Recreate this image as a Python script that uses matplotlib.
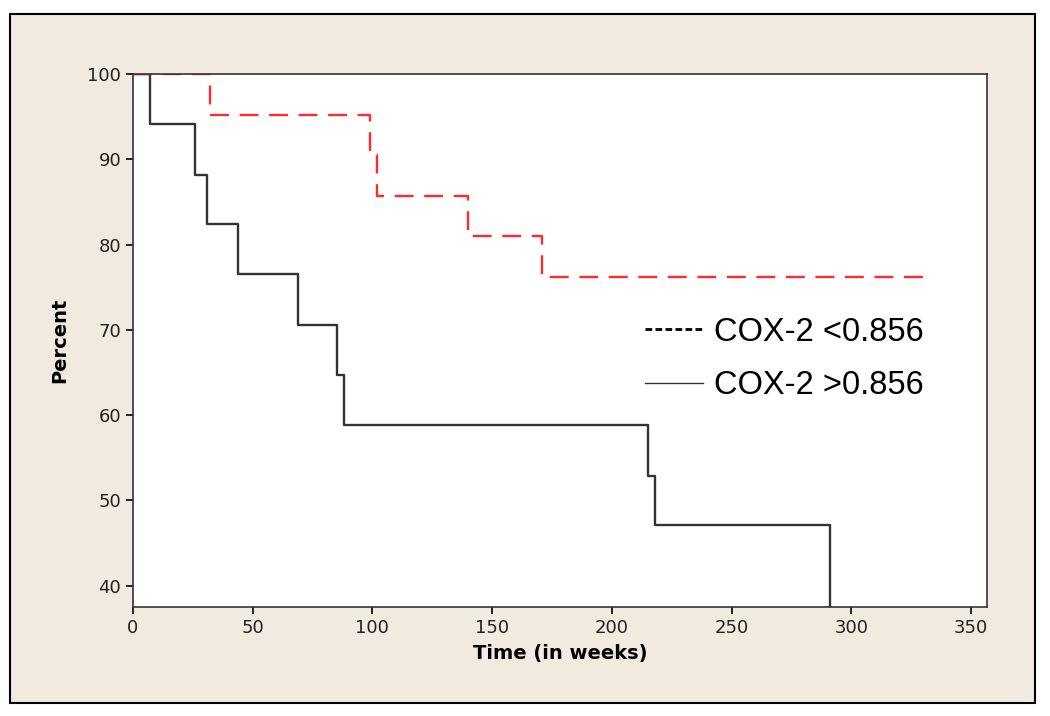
import matplotlib
matplotlib.use("Agg")
import matplotlib.pyplot as plt
from matplotlib.lines import Line2D
from matplotlib.patches import Rectangle

# Kaplan-Meier style survival steps
low_weeks = [0, 32, 99, 102, 140, 171, 334]
low_pct = [100, 95.2, 90.5, 85.7, 81.0, 76.2, 76.2]

high_weeks = [0, 7, 26, 31, 44, 69, 85, 88, 215, 218, 291]
high_pct = [100, 94.1, 88.2, 82.4, 76.5, 70.6, 64.7, 58.8, 52.9, 47.1, 31.4]

x_ticks = [0, 50, 100, 150, 200, 250, 300, 350]
y_ticks = [40, 50, 60, 70, 80, 90, 100]
legend_labels = ["COX-2 <0.856", "COX-2 >0.856"]

BEIGE = "#f0eae1"


def main():
    fig = plt.figure(figsize=(10.5, 7.16), dpi=100, facecolor="white")
    fig.add_artist(Rectangle((10 / 1050, 13 / 716), 1025 / 1050, 689 / 716,
                             transform=fig.transFigure, facecolor=BEIGE,
                             edgecolor="black", lw=1.5, zorder=-10))

    ax = fig.add_axes([133 / 1050, 1 - 607 / 716, 854 / 1050, 533 / 716])
    ax.set_facecolor("white")

    ax.plot(high_weeks, high_pct, drawstyle="steps-post", color="#333333", lw=1.7)
    ax.plot(low_weeks, low_pct, drawstyle="steps-post", color="#ff2a2a", lw=1.7,
            linestyle=(0, (8, 4.5)))

    ax.set_xlim(0, 356.7)
    ax.set_ylim(37.5, 100)
    ax.set_xticks(x_ticks)
    ax.set_yticks(y_ticks)
    ax.tick_params(direction="out", length=5, width=1.2, colors="black",
                   labelsize=13, labelcolor="#222222")
    for s in ax.spines.values():
        s.set_color("#333333")
        s.set_linewidth(1.2)

    ax.set_xlabel("Time (in weeks)", fontsize=14, fontweight="bold", labelpad=5)
    ax.set_ylabel("Percent", fontsize=14, fontweight="bold", labelpad=13)

    handles = [Line2D([], [], color="black", lw=2.0, linestyle=(0, (2.4, 1.2))),
               Line2D([], [], color="#333333", lw=1.0)]
    ax.legend(handles, legend_labels, loc="upper left", bbox_to_anchor=(0.6, 0.545),
              frameon=False, borderpad=0, borderaxespad=0, handlelength=1.75,
              handletextpad=0.35, labelspacing=0.7,
              prop={"family": "Liberation Sans", "size": 23.5})

    fig.savefig("out.png", dpi=100, facecolor=fig.get_facecolor())


if __name__ == "__main__":
    main()
